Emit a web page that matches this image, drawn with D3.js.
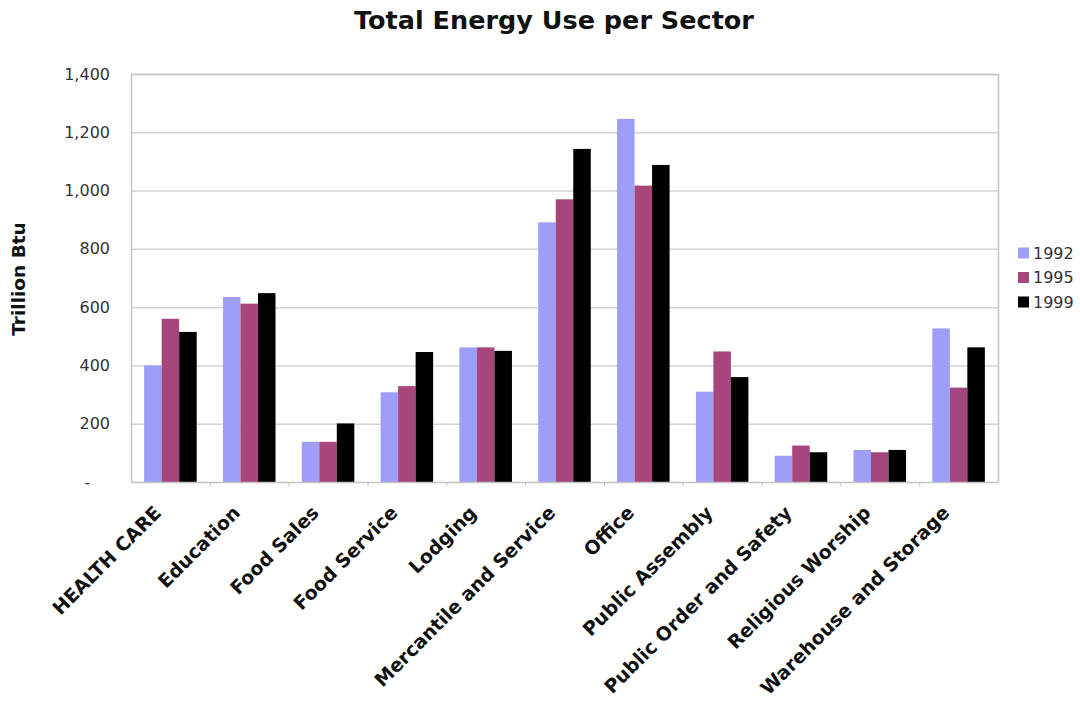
<!DOCTYPE html>
<html>
<head>
<meta charset="utf-8">
<script src="https://cdn.jsdelivr.net/npm/d3@7"></script>
<style>
  html, body { margin: 0; padding: 0; background: #fff; }
  svg { display: block; font-family: "DejaVu Sans", Verdana, sans-serif; }
</style>
</head>
<body>
<svg id="chart" width="1080" height="704"></svg>
<script>
const categories = ["HEALTH CARE", "Education", "Food Sales", "Food Service", "Lodging",
  "Mercantile and Service", "Office", "Public Assembly", "Public Order and Safety",
  "Religious Worship", "Warehouse and Storage"];
const seriesNames = ["1992", "1995", "1999"];
const values1992 = [400, 635, 138, 308, 462, 891, 1246, 310, 90, 110, 527];
const values1995 = [560, 612, 138, 329, 462, 970, 1017, 448, 125, 102, 324];
const values1999 = [515, 648, 201, 446, 450, 1143, 1088, 360, 102, 110, 462];
const yTicks = [0, 200, 400, 600, 800, 1000, 1200, 1400];
const colors = ["#9E9EF8", "#A6467A", "#000000"];
const seriesValues = [values1992, values1995, values1999];

const svg = d3.select("#chart");
const m = { left: 131, top: 74, right: 998, bottom: 482 };

const x = d3.scaleBand().domain(categories).range([m.left, m.right]).paddingInner(0).paddingOuter(0);
const inner = d3.scaleBand().domain(seriesNames).range([0, x.bandwidth()]).paddingInner(0).paddingOuter(0.75);
const y = d3.scaleLinear().domain([0, 1400]).range([m.bottom, m.top]);

// gridlines
svg.append("g").selectAll("line").data(yTicks.filter(d => d > 0)).join("line")
  .attr("x1", m.left).attr("x2", m.right)
  .attr("y1", d => y(d) + 0.5).attr("y2", d => y(d) + 0.5)
  .attr("stroke", "#d4d4d4").attr("stroke-width", 1.5);

// plot border (top and right)
svg.append("path")
  .attr("d", `M${m.left},${m.top + 0.5}H${m.right + 0.5}V${m.bottom}`)
  .attr("fill", "none").attr("stroke", "#c4c4c4").attr("stroke-width", 1.5);

// bars
const data = [];
categories.forEach((c, i) => seriesNames.forEach((s, j) => data.push({ c, s, v: seriesValues[j][i], j })));
svg.append("g").selectAll("rect").data(data).join("rect")
  .attr("x", d => x(d.c) + inner(d.s))
  .attr("y", d => y(d.v))
  .attr("width", inner.bandwidth())
  .attr("height", d => y(0) - y(d.v))
  .attr("fill", d => colors[d.j]);

// y axis
const yAxis = d3.axisLeft(y).tickValues(yTicks).tickSize(0).tickPadding(21)
  .tickFormat(d => d === 0 ? "-" : d3.format(",")(d));
const gy = svg.append("g").attr("transform", `translate(${m.left},0)`).call(yAxis);
gy.select(".domain").attr("stroke", "#c4c4c4").attr("stroke-width", 1.5);
gy.selectAll("text").attr("font-size", 16).attr("fill", "#333")
  .attr("font-family", '"DejaVu Sans", Verdana, sans-serif');
gy.selectAll(".tick").filter(d => d === 0).select("text").attr("dx", -20);

// x axis
const xAxis = d3.axisBottom(x).tickSize(0).tickFormat("");
const gx = svg.append("g").attr("transform", `translate(0,${m.bottom})`).call(xAxis);
gx.select(".domain").attr("stroke", "#c4c4c4").attr("stroke-width", 1.5);
// boundary tick marks
svg.append("g").selectAll("line").data(categories.slice(1)).join("line")
  .attr("x1", d => x(d) + 0.5).attr("x2", d => x(d) + 0.5)
  .attr("y1", m.bottom).attr("y2", m.bottom + 4)
  .attr("stroke", "#c4c4c4").attr("stroke-width", 1);

// x labels
svg.append("g").selectAll("text").data(categories).join("text")
  .attr("transform", d => `translate(${x(d) + x.bandwidth() / 2 - 8},${m.bottom + 32}) rotate(-45)`)
  .attr("text-anchor", "end")
  .attr("font-size", 19).attr("font-weight", "bold").attr("fill", "#111")
  .text(d => d);

// y title
svg.append("text")
  .attr("transform", `translate(25,${(m.top + m.bottom) / 2 + 1}) rotate(-90)`)
  .attr("text-anchor", "middle")
  .attr("font-size", 18.5).attr("font-weight", "bold").attr("fill", "#111")
  .text("Trillion Btu");

// title
svg.append("text")
  .attr("x", 554).attr("y", 29)
  .attr("text-anchor", "middle")
  .attr("font-size", 25.5).attr("font-weight", "bold").attr("fill", "#111")
  .text("Total Energy Use per Sector");

// legend
const lg = svg.append("g").selectAll("g").data(seriesNames).join("g")
  .attr("transform", (d, i) => `translate(1018,${253 + i * 24.5})`);
lg.append("rect").attr("x", 0).attr("y", -5.5).attr("width", 11).attr("height", 11)
  .attr("fill", (d, i) => colors[i]);
lg.append("text").attr("x", 15).attr("y", 0).attr("dy", "0.35em")
  .attr("font-size", 16).attr("fill", "#333").text(d => d);
</script>
</body>
</html>
